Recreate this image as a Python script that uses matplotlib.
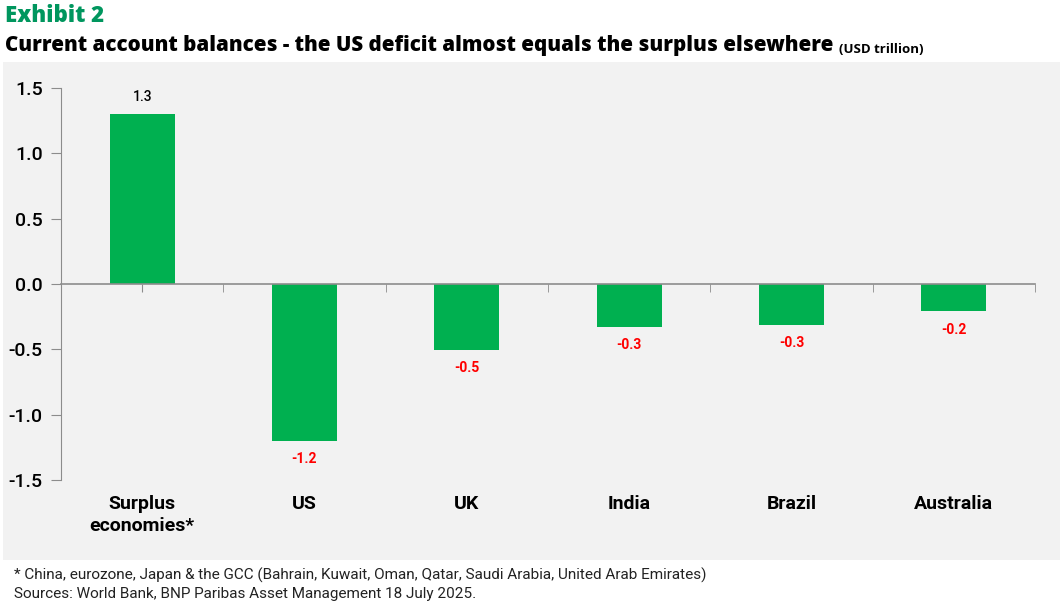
import matplotlib.pyplot as plt
import matplotlib.transforms as mtransforms
from matplotlib.patches import Rectangle

# dados do gráfico (USD trilhões)
categorias = ["Surplus\neconomies*", "US", "UK", "India", "Brazil", "Australia"]
valores = [1.30, -1.20, -0.505, -0.33, -0.31, -0.21]
rotulos = ["1.3", "-1.2", "-0.5", "-0.3", "-0.3", "-0.2"]
yticks = [-1.5, -1.0, -0.5, 0.0, 0.5, 1.0, 1.5]

verde = "#00B050"
cinza_fundo = "#F2F2F2"
cinza_eixo = "#8C8C8C"

plt.rcParams['font.family'] = ['Roboto', 'DejaVu Sans']

fig = plt.figure(figsize=(10.63, 6.04), dpi=100)
fig.patch.set_facecolor("white")

# painel cinza atrás do gráfico
fig.patches.append(Rectangle((3 / 1063, 1 - 560 / 604), 1057 / 1063, 498 / 604,
                             transform=fig.transFigure, facecolor=cinza_fundo,
                             edgecolor="none", zorder=-5))

ax = fig.add_axes([61 / 1063, 1 - 480 / 604, 974 / 1063, 392 / 604])
ax.set_facecolor(cinza_fundo)
ax.set_zorder(2)

x = list(range(len(categorias)))
ax.bar(x, valores, width=0.4, color=verde, zorder=2)

ax.set_xlim(-0.5, len(categorias) - 0.5)
ax.set_ylim(-1.5, 1.5)
ax.set_yticks(yticks)
ax.set_yticklabels([f"{v:.1f}" for v in yticks], fontsize=14, fontweight='medium')
ax.tick_params(axis='y', direction='out', length=7, color=cinza_eixo, pad=6)

for lado in ['top', 'right']:
    ax.spines[lado].set_visible(False)
ax.spines['left'].set_color(cinza_eixo)
ax.spines['bottom'].set_position(('data', 0))
ax.spines['bottom'].set_color(cinza_eixo)
ax.spines['bottom'].set_linewidth(1.2)
ax.spines['bottom'].set_zorder(3)

# ticks no eixo zero: centros e limites das categorias
ax.set_xticks(x)
ax.set_xticks([i - 0.5 for i in range(len(categorias) + 1)], minor=True)
ax.tick_params(axis='x', which='both', direction='out', length=6,
               color=cinza_eixo, labelbottom=False)

# rótulos das categorias embaixo
trans = mtransforms.blended_transform_factory(ax.transData, ax.transAxes)
for xi, cat in zip(x, categorias):
    ax.text(xi, -0.037, cat, transform=trans, ha='center', va='top',
            fontsize=14, fontweight='semibold', linespacing=1.35)

# rótulos de valor
for xi, v, r in zip(x, valores, rotulos):
    if v >= 0:
        ax.annotate(r, (xi, v), xytext=(0, 7), textcoords='offset points',
                    ha='center', va='bottom', fontsize=10, fontweight='medium',
                    color='black')
    else:
        ax.annotate(r, (xi, v), xytext=(0, -8), textcoords='offset points',
                    ha='center', va='top', fontsize=10, fontweight='bold',
                    color='#FF0000')

# títulos
fig.text(5 / 1063, 1 - 22 / 604, "Exhibit 2", fontsize=16, fontweight='heavy',
         color="#00965E", family=['Open Sans', 'DejaVu Sans'], va='baseline')
titulo = fig.text(5 / 1063, 1 - 51 / 604,
                  "Current account balances - the US deficit almost equals the surplus elsewhere",
                  fontsize=14.8, fontweight='heavy', color='black',
                  family=['Open Sans', 'DejaVu Sans'], va='baseline')
fig.canvas.draw()
ax.annotate("(USD trillion)", xy=(1, 0), xycoords=titulo, xytext=(4, 0),
            textcoords='offset points', fontsize=9.5, fontweight='bold',
            family=['Open Sans', 'DejaVu Sans'], va='bottom', annotation_clip=False)

# notas de rodapé
fig.text(14 / 1063, 1 - 580 / 604,
         "* China, eurozone, Japan & the GCC (Bahrain, Kuwait, Oman, Qatar, Saudi Arabia, United Arab Emirates)",
         fontsize=11, color='#222222', va='baseline')
fig.text(14 / 1063, 1 - 598 / 604,
         "Sources: World Bank, BNP Paribas Asset Management 18 July 2025.",
         fontsize=11, color='#222222', va='baseline')

plt.savefig("out.png", dpi=100)
